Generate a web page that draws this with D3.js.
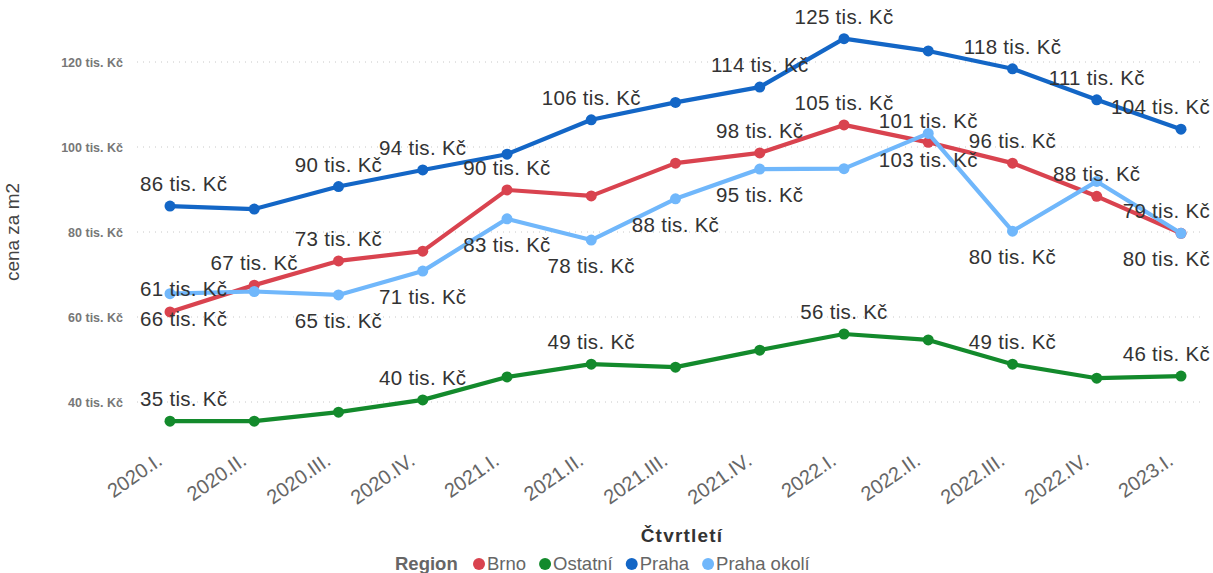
<!DOCTYPE html>
<html>
<head>
<meta charset="utf-8">
<script src="https://cdn.jsdelivr.net/npm/d3@7"></script>
<style>
  html, body { margin: 0; padding: 0; background: #ffffff; }
  svg { display: block; }
</style>
</head>
<body>
<svg id="chart" width="1213" height="573"></svg>
<script>
// ---------- DATA ----------
const quarters = ["2020.I.", "2020.II.", "2020.III.", "2020.IV.", "2021.I.", "2021.II.", "2021.III.", "2021.IV.", "2022.I.", "2022.II.", "2022.III.", "2022.IV.", "2023.I."];
const seriesNames = ["Brno", "Ostatní", "Praha", "Praha okolí"];
const brnoValues     = [61.2, 67.5, 73.2, 75.5, 89.9, 88.5, 96.2, 98.6, 105.2, 101.1, 96.2, 88.4, 79.7];
const ostatniValues  = [35.5, 35.5, 37.6, 40.5, 45.9, 48.9, 48.2, 52.2, 56.0, 54.6, 48.9, 45.6, 46.1];
const prahaValues    = [86.1, 85.4, 90.7, 94.6, 98.3, 106.4, 110.5, 114.1, 125.5, 122.6, 118.4, 111.1, 104.2];
const okoliValues    = [65.5, 66.0, 65.2, 70.8, 83.1, 78.1, 87.8, 94.8, 94.9, 103.2, 80.2, 91.9, 79.7];
// data label texts (null = no label shown), as displayed in the chart
const brnoLabels     = [66, 67, 73, null, 90, null, null, 98, 105, 101, 96, 88, 79];
const ostatniLabels  = [35, null, null, 40, null, 49, null, null, 56, null, 49, null, 46];
const prahaLabels    = [86, null, 90, 94, null, 106, null, 114, 125, null, 118, 111, 104];
const okoliLabels    = [61, null, 65, 71, 83, 78, 88, 95, null, 103, 80, null, 80];
// label side per point: a = above, b = below, n = tight below, m = tight above
const brnoSides      = ["n","a","a","a","a","a","a","a","a","a","a","a","a"];
const ostatniSides   = ["a","a","a","a","a","a","a","a","a","a","a","a","a"];
const prahaSides     = ["a","a","a","a","a","a","a","a","a","a","a","a","a"];
const okoliSides     = ["m","b","b","b","b","b","b","b","b","b","b","b","b"];
const yTicks = [40, 60, 80, 100, 120];
const colors = ["#D9434F", "#138A2C", "#1366C6", "#70B7FB"];

const series = [
  {name: seriesNames[0], values: brnoValues, labels: brnoLabels, sides: brnoSides, color: colors[0]},
  {name: seriesNames[1], values: ostatniValues, labels: ostatniLabels, sides: ostatniSides, color: colors[1]},
  {name: seriesNames[2], values: prahaValues, labels: prahaLabels, sides: prahaSides, color: colors[2]},
  {name: seriesNames[3], values: okoliValues, labels: okoliLabels, sides: okoliSides, color: colors[3]}
];

// ---------- LAYOUT ----------
const svg = d3.select("#chart");
const font = "'Liberation Sans', Arial, sans-serif";
const x = d3.scalePoint().domain(quarters).range([170, 1181]);
const y = d3.scaleLinear().domain([30, 128]).range([444.5, 28]);
const gridLeft = 137, gridRight = 1205;
const sideOffset = {a: -22, b: 26, n: 7, m: -5};

// gridlines
svg.append("g").selectAll("line").data(yTicks).join("line")
  .attr("x1", gridLeft).attr("x2", gridRight)
  .attr("y1", d => y(d)).attr("y2", d => y(d))
  .attr("stroke", "#c8c8c8").attr("stroke-width", 1)
  .attr("stroke-dasharray", "1,5");

// y axis
const yAxis = d3.axisLeft(y).tickValues(yTicks).tickSize(0).tickPadding(0)
  .tickFormat(d => d + " tis. Kč");
const yg = svg.append("g").attr("transform", "translate(123,0)").call(yAxis);
yg.select(".domain").remove();
yg.selectAll("text").attr("font-family", font).attr("font-size", 12.5)
  .attr("font-weight", "bold").attr("fill", "#777777").attr("dy", "0.35em");

// x axis
const xAxis = d3.axisBottom(x).tickSize(0).tickPadding(0);
const xg = svg.append("g").attr("transform", "translate(0,449)").call(xAxis);
xg.select(".domain").remove();
xg.selectAll("text").attr("font-family", font).attr("font-size", 20)
  .attr("fill", "#666666").attr("text-anchor", "end")
  .attr("x", 0).attr("y", 0).attr("dy", 0)
  .attr("transform", "translate(-7,14.5) rotate(-35)");

// axis titles
svg.append("text").attr("x", 682).attr("y", 542)
  .attr("text-anchor", "middle").attr("font-family", font)
  .attr("font-size", 19).attr("font-weight", "bold").attr("fill", "#333333")
  .attr("letter-spacing", 1.2)
  .text("Čtvrtletí");
svg.append("text").attr("transform", "translate(19,232) rotate(-90)")
  .attr("text-anchor", "middle").attr("font-family", font)
  .attr("font-size", 19).attr("fill", "#444444")
  .text("cena za m2");

// lines
const line = d3.line().x((d, i) => x(quarters[i])).y(d => y(d));
const plotOrder = [1, 2, 0, 3];
plotOrder.forEach(si => {
  const s = series[si];
  const g = svg.append("g");
  g.append("path").datum(s.values).attr("d", line)
    .attr("fill", "none").attr("stroke", s.color).attr("stroke-width", 4.2)
    .attr("stroke-linejoin", "round").attr("stroke-linecap", "round");
  g.selectAll("circle").data(s.values).join("circle")
    .attr("cx", (d, i) => x(quarters[i])).attr("cy", d => y(d))
    .attr("r", 5.5).attr("fill", s.color);
});

// data labels
const lblG = svg.append("g");
series.forEach(s => {
  s.values.forEach((v, i) => {
    const lab = s.labels[i];
    if (lab === null) return;
    const t = lblG.append("text")
      .attr("font-family", font).attr("font-size", 20.5).attr("fill", "#333333")
      .attr("letter-spacing", 0.3)
      .attr("text-anchor", "middle")
      .text(lab + " tis. Kč");
    const w = t.node().getComputedTextLength();
    let cx = x(quarters[i]);
    cx = Math.max(140 + w / 2, Math.min(1210 - w / 2, cx));
    const cy = y(v) + sideOffset[s.sides[i]];
    t.attr("x", cx).attr("y", cy).attr("dy", "0.35em");
  });
});

// legend
const legend = svg.append("g").attr("transform", "translate(0,564)");
legend.append("text").attr("x", 395).attr("y", 0).attr("dy", "0.35em")
  .attr("font-family", font).attr("font-size", 18.5).attr("font-weight", "bold")
  .attr("fill", "#666666").text("Region");
let cxLeg = 479;
series.forEach(s => {
  legend.append("circle").attr("cx", cxLeg).attr("cy", 0).attr("r", 6).attr("fill", s.color);
  const t = legend.append("text").attr("x", cxLeg + 8).attr("y", 0).attr("dy", "0.35em")
    .attr("font-family", font).attr("font-size", 18.5).attr("fill", "#666666").text(s.name);
  cxLeg += 8 + t.node().getComputedTextLength() + 19;
});
</script>
</body>
</html>
